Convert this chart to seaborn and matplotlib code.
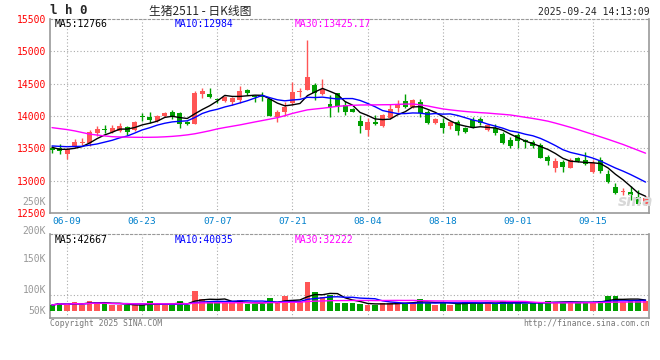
import numpy as np
import pandas as pd
import seaborn as sns
import matplotlib.pyplot as plt

# trading days shown on the chart (no exchange holidays in this span)
dates = pd.bdate_range("2025-06-05", "2025-09-24")

opens = [13500, 13505, 13420, 13520, 13590, 13585, 13730, 13795, 13760, 13775,
         13830, 13780, 14003, 13990, 13925, 14003, 14067, 14042, 13900, 13880,
         14340, 14335, 14262, 14237, 14221, 14255, 14395, 14310, 14300, 14265,
         13985, 14065, 14200, 14370, 14402, 14480, 14340, 14190, 14350, 14170,
         14104, 13928, 13784, 13912, 13850, 13965, 14119, 14232, 14145, 14222,
         14067, 13897, 13897, 13850, 13912, 13820, 13939, 13949, 13790, 13810,
         13722, 13629, 13707, 13629, 13594, 13552, 13371, 13201, 13294, 13201,
         13346, 13320, 13139, 13320, 13104, 12898, 12820, 12830, 12744, 12640]
highs = [13540, 13560, 13505, 13640, 13665, 13785, 13845, 13855, 13860, 13895,
         13850, 13915, 14040, 14058, 14010, 14065, 14100, 14058, 13925, 14390,
         14440, 14430, 14280, 14315, 14300, 14460, 14420, 14320, 14366, 14270,
         14090, 14210, 14530, 14430, 15175, 14515, 14568, 14320, 14360, 14237,
         14130, 14016, 13965, 14016, 14030, 14186, 14248, 14340, 14260, 14260,
         14090, 13965, 13965, 13930, 13940, 13835, 13985, 13990, 13880, 13880,
         13750, 13671, 13740, 13650, 13630, 13590, 13397, 13346, 13320, 13346,
         13370, 13439, 13320, 13370, 13165, 12960, 12882, 12910, 12860, 12760]
lows = [13435, 13415, 13335, 13510, 13545, 13530, 13695, 13735, 13740, 13745,
        13710, 13775, 13930, 13890, 13900, 13990, 13950, 13820, 13855, 13870,
        14280, 14275, 14200, 14220, 14170, 14206, 14330, 14220, 14237, 13995,
        13905, 14000, 14170, 14290, 14395, 14250, 14320, 13990, 14060, 14016,
        14060, 13733, 13691, 13860, 13830, 13949, 14067, 14119, 14130, 13990,
        13880, 13880, 13742, 13800, 13707, 13730, 13820, 13860, 13770, 13700,
        13560, 13501, 13501, 13500, 13500, 13350, 13243, 13139, 13139, 13190,
        13290, 13243, 13114, 13114, 12970, 12800, 12779, 12700, 12630, 12630]
closes = [13480, 13455, 13495, 13603, 13600, 13758, 13795, 13778, 13810, 13846,
          13760, 13912, 13983, 13940, 14003, 14052, 14003, 13880, 13870, 14361,
          14387, 14300, 14245, 14299, 14283, 14387, 14350, 14292, 14287, 14000,
          14065, 14140, 14370, 14392, 14608, 14350, 14413, 14140, 14150, 14067,
          14067, 13850, 13912, 13877, 14016, 14104, 14186, 14145, 14248, 14042,
          13897, 13954, 13820, 13912, 13774, 13758, 13836, 13890, 13861, 13733,
          13578, 13537, 13619, 13594, 13537, 13356, 13309, 13305, 13217, 13320,
          13309, 13258, 13279, 13155, 12985, 12815, 12835, 12779, 12640, 12728]
# closes of the nine sessions before the window, for the short averages
prior_closes = [13520, 13545, 13570, 13575, 13580, 13610, 13495, 13528, 13467]

ma30 = [13820, 13805, 13790, 13770, 13745, 13720, 13705, 13692, 13680, 13676,
        13673, 13671, 13670, 13671, 13673, 13678, 13685, 13695, 13708, 13725,
        13748, 13772, 13800, 13822, 13842, 13862, 13885, 13908, 13930, 13952,
        13975, 14005, 14040, 14068, 14095, 14108, 14120, 14135, 14150, 14158,
        14165, 14170, 14171, 14172, 14174, 14175, 14180, 14184, 14186, 14172,
        14155, 14132, 14110, 14095, 14082, 14070, 14060, 14052, 14045, 14035,
        14026, 14016, 13998, 13980, 13962, 13942, 13920, 13890, 13858, 13825,
        13790, 13752, 13715, 13678, 13640, 13600, 13560, 13515, 13470, 13425]

volumes = [24000, 33000, 24000, 37000, 24000, 41000, 37000, 28000, 24000, 24000,
           24000, 24000, 24000, 41000, 24000, 24000, 28000, 41000, 24000, 81000,
           48000, 41000, 37000, 33000, 31000, 44000, 28000, 28000, 28000, 53000,
           33000, 61000, 37000, 37000, 117000, 77000, 57000, 64000, 33000, 33000,
           33000, 28000, 24000, 24000, 33000, 33000, 33000, 33000, 33000, 48000,
           33000, 24000, 33000, 24000, 33000, 36000, 33000, 28000, 33000, 28000,
           41000, 33000, 33000, 28000, 33000, 36000, 41000, 36000, 33000, 36000,
           33000, 36000, 36000, 41000, 60000, 60000, 36000, 41000, 41000, 41000]

tick_dates = ["06-09", "06-23", "07-07", "07-21", "08-04", "08-18", "09-01", "09-15"]
price_ticks = [12500, 13000, 13500, 14000, 14500, 15000, 15500]
vol_labels = ["250K", "200K", "150K", "100K", "50K"]
vol_label_y = [202, 231, 259, 290, 311]   # where sina prints them (pixels)

W, H = 660, 360
RED = "#ff5555"
GREEN = "#009f00"
GRID = "#aaaaaa"
FRAME = "#999999"

sns.set_style("white")
plt.rcParams["font.family"] = ["DejaVu Sans Mono", "Noto Sans CJK SC"]

fig = plt.figure(figsize=(6.6, 3.6), dpi=100)


def px_axes(l, t, r, b):
    return fig.add_axes([l / W, 1 - b / H, (r - l) / W, (b - t) / H])


def ftext(x, y, s, **kw):
    fig.text(x / W, 1 - y / H, s, va="center", **kw)


ax = px_axes(50, 19, 649.3, 213)
axv = px_axes(50, 234, 649.3, 318)

df = pd.DataFrame({"date": dates, "open": opens, "high": highs,
                   "low": lows, "close": closes, "volume": volumes, "ma30": ma30})
df["x"] = np.arange(len(df))
all_close = pd.Series(prior_closes + closes)
df["ma5"] = all_close.rolling(5).mean().iloc[len(prior_closes):].values
df["ma10"] = all_close.rolling(10).mean().iloc[len(prior_closes):].values
df["vma5"] = df["volume"].rolling(5, min_periods=1).mean()
df["vma10"] = df["volume"].rolling(10, min_periods=1).mean()
df["vma30"] = df["volume"].rolling(30, min_periods=1).mean()
colors = np.where(df["close"] >= df["open"], RED, GREEN)

tick_pos = [df.index[df["date"].dt.strftime("%m-%d") == d][0] for d in tick_dates]

# candles
ax.vlines(df["x"], df["low"], df["high"], colors=colors, linewidth=1, zorder=3)
body_low = np.minimum(df["open"], df["close"])
body_h = np.maximum((df["close"] - df["open"]).abs(), 15)
ax.bar(df["x"], body_h, bottom=body_low, width=0.66, color=colors, linewidth=0, zorder=3)

sns.lineplot(data=df, x="x", y="ma5", ax=ax, color="black", linewidth=1, zorder=4)
sns.lineplot(data=df, x="x", y="ma10", ax=ax, color="#0000ff", linewidth=1, zorder=4)
sns.lineplot(data=df, x="x", y="ma30", ax=ax, color="#ff00ff", linewidth=1, zorder=4)

ax.set_xlim(-0.27, 79.5)
ax.set_ylim(12500, 15500)
ax.set_yticks(price_ticks)
ax.set_yticklabels([str(t) for t in price_ticks], color="#ff0000", fontsize=7)
ax.set_xticks(tick_pos)
ax.set_xticklabels(tick_dates, color="#0080cc", fontsize=6.8)
ax.tick_params(length=0, pad=3)
ax.set_xlabel("")
ax.set_ylabel("")
for t in price_ticks[1:-1]:
    ax.axhline(t, color=GRID, linestyle=(0, (1, 2)), linewidth=0.8, zorder=1)
for p in tick_pos:
    ax.axvline(p, color=GRID, linestyle=(0, (1, 2)), linewidth=0.8, zorder=1)

# volume
axv.bar(df["x"], df["volume"], width=0.76, color=colors, linewidth=0, zorder=3)
sns.lineplot(data=df, x="x", y="vma5", ax=axv, color="black", linewidth=1, zorder=4)
sns.lineplot(data=df, x="x", y="vma10", ax=axv, color="#0000ff", linewidth=1, zorder=4)
sns.lineplot(data=df, x="x", y="vma30", ax=axv, color="#ff00ff", linewidth=1, zorder=4)
axv.set_xlim(-0.27, 79.5)
axv.set_ylim(-28000, 308000)
axv.set_xticks([])
axv.set_yticks([])
axv.set_xlabel("")
axv.set_ylabel("")
axv.axhline(64000, color=GRID, linestyle=(0, (1, 2)), linewidth=0.8, zorder=1)
for p in tick_pos:
    axv.axvline(p, color=GRID, linestyle=(0, (1, 2)), linewidth=0.8, zorder=1)

for a in (ax, axv):
    for side in ("left", "bottom", "right"):
        a.spines[side].set_color(FRAME)
        a.spines[side].set_linewidth(1.2)
    a.spines["top"].set_color(FRAME)
    a.spines["top"].set_linestyle((0, (2, 2)))

for s, y in zip(vol_labels, vol_label_y):
    ftext(46, y, s, ha="right", color="#999999", fontsize=7)

# header and legends
ftext(50, 11, "l h 0", ha="left", fontsize=9, fontweight="bold")
ftext(200, 11, "生猪2511 - 日K线图", ha="center", fontsize=8.5,
      family=["Noto Sans CJK SC", "DejaVu Sans"])
ftext(650, 12, "2025-09-24 14:13:09", ha="right", fontsize=7)
ftext(55, 24, "MA5:12766", ha="left", fontsize=7, color="black")
ftext(175, 24, "MA10:12984", ha="left", fontsize=7, color="#0000ff")
ftext(295, 24, "MA30:13425.17", ha="left", fontsize=7, color="#ff00ff")
ftext(55, 240, "MA5:42667", ha="left", fontsize=7, color="black")
ftext(175, 240, "MA10:40035", ha="left", fontsize=7, color="#0000ff")
ftext(295, 240, "MA30:32222", ha="left", fontsize=7, color="#ff00ff")
ftext(50, 324, "Copyright 2025 SINA.COM", ha="left", fontsize=5.8, color="#777777")
ftext(650, 324, "http://finance.sina.com.cn", ha="right", fontsize=5.8, color="#777777")
ftext(636, 201, "sina", ha="center", fontsize=11, color="#d8d8d8",
      fontweight="bold", style="italic", family=["DejaVu Sans"], zorder=0)

fig.savefig("out.png", dpi=100)
